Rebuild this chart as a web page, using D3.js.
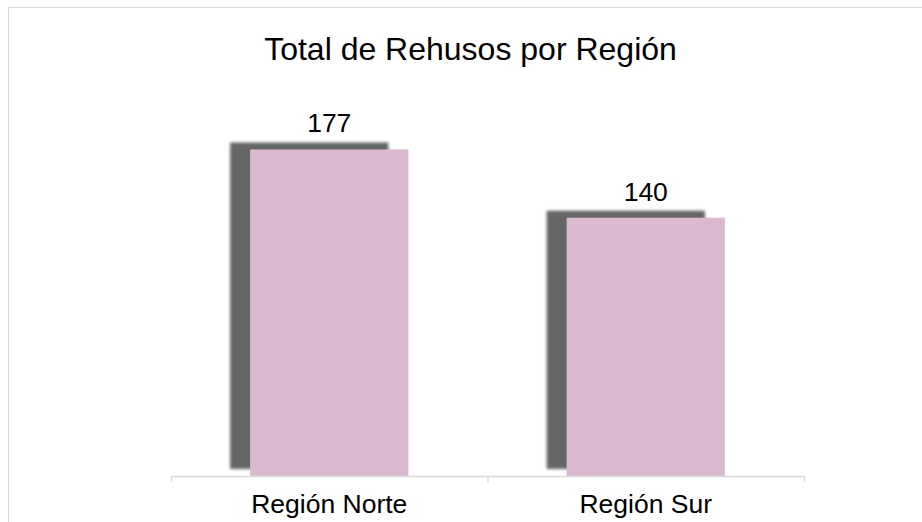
<!DOCTYPE html>
<html><head><meta charset="utf-8">
<script src="https://cdn.jsdelivr.net/npm/d3@7/dist/d3.min.js"></script>
<style>body{margin:0;background:#fff}svg{display:block}</style>
</head><body>
<svg id="c" width="922" height="522"></svg>
<script>
const title = "Total de Rehusos por Región";
const categories = ["Región Norte", "Región Sur"];
const values = [177, 140];
const yMax = 200;

const svg = d3.select("#c");
const W = 922, H = 522;
const plot = {left: 171, right: 804, top: 107, bottom: 476};

svg.append("rect").attr("x", 8.5).attr("y", 7.5).attr("width", 940).attr("height", 540)
  .attr("fill", "#fff").attr("stroke", "#d9d9d9").attr("stroke-width", 1);

const defs = svg.append("defs");
defs.append("filter").attr("id", "blur").attr("x", "-20%").attr("y", "-20%").attr("width", "140%").attr("height", "140%")
  .append("feGaussianBlur").attr("stdDeviation", 1.6);

const x = d3.scaleBand().domain(categories).range([plot.left, plot.right]).padding(0);
const y = d3.scaleLinear().domain([0, yMax]).range([plot.bottom, plot.top]);
const bw = x.bandwidth() * 0.5;

const data = categories.map((c, i) => ({c, v: values[i]}));

// shadows
svg.append("g").selectAll("rect").data(data).join("rect")
  .attr("x", d => x(d.c) + (x.bandwidth() - bw) / 2 - 20)
  .attr("y", d => y(d.v) - 7)
  .attr("width", bw)
  .attr("height", d => plot.bottom - y(d.v))
  .attr("fill", "#666666")
  .attr("filter", "url(#blur)");

// bars
svg.append("g").selectAll("rect").data(data).join("rect")
  .attr("x", d => x(d.c) + (x.bandwidth() - bw) / 2)
  .attr("y", d => y(d.v))
  .attr("width", bw)
  .attr("height", d => plot.bottom - y(d.v))
  .attr("fill", "#d9b8d0");

// axis
const axis = d3.axisBottom(x).tickSize(0).tickFormat(d => d);
const ag = svg.append("g").attr("transform", `translate(0,${plot.bottom})`).call(axis);
ag.select(".domain").remove();
ag.selectAll("text").attr("font-family", "Liberation Sans, Arial, sans-serif")
  .attr("font-size", "26.5px").attr("fill", "#000").attr("dy", null).attr("y", 37);
svg.append("line").attr("x1", plot.left).attr("x2", plot.right)
  .attr("y1", plot.bottom + 0.5).attr("y2", plot.bottom + 0.5)
  .attr("stroke", "#d9d9d9").attr("stroke-width", 1.5);
const bounds = [plot.left, ...categories.slice(1).map(c => x(c)), plot.right];
svg.append("g").selectAll("line").data(bounds).join("line")
  .attr("x1", d => d + 0.5).attr("x2", d => d + 0.5)
  .attr("y1", plot.bottom).attr("y2", plot.bottom + 6)
  .attr("stroke", "#d9d9d9").attr("stroke-width", 1.5);

// value labels
svg.append("g").selectAll("text").data(data).join("text")
  .attr("x", d => x(d.c) + x.bandwidth() / 2)
  .attr("y", d => y(d.v) - 17)
  .attr("text-anchor", "middle")
  .attr("font-family", "Liberation Sans, Arial, sans-serif")
  .attr("font-size", "26.5px").attr("fill", "#000")
  .text(d => d.v);

// title
svg.append("text").attr("x", (plot.left + plot.right) / 2 - 17).attr("y", 60)
  .attr("text-anchor", "middle")
  .attr("font-family", "Liberation Sans, Arial, sans-serif")
  .attr("font-size", "32px").attr("fill", "#000")
  .text(title);
</script>
</body></html>
